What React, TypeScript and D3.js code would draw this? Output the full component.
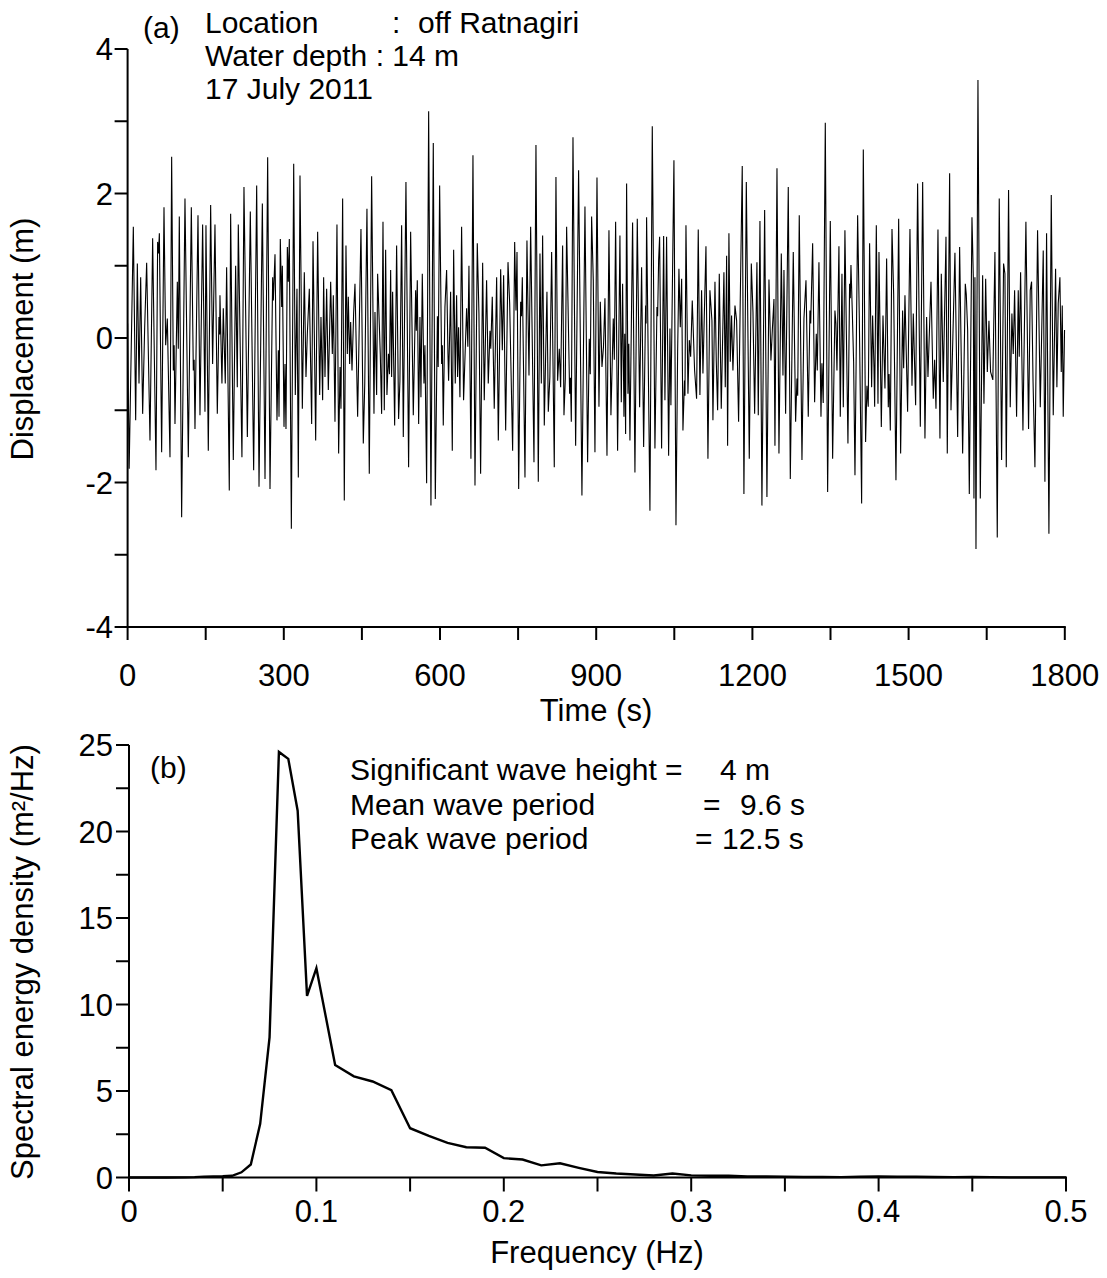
import React from "react";
import * as d3 from "d3";

// (a) surface displacement record, [time s, displacement m]
const displacement: [number, number][] = [
  [0, 0.2], [3, -1.81], [11, 1.54], [15.5, -1.14], [18.7, 1.03], [21.9, -0.63], [25.1, 0.84], [28.9, -1.05], [32.8, 0.15], [36.6, 1.04],
  [43, -1.42], [48.1, 1.38], [54.5, -1.83], [57.7, 1.33], [59.3, 1.17], [61, 1.45], [65.4, -1.58], [69.9, 1.81], [73.1, -0.1], [76.3, 0.27],
  [81.4, -1.65], [84.6, 2.51], [87.8, -0.45], [89.4, -0.1], [91, -1.19], [95.5, 0.78], [97.4, -0.15], [99.3, 1.68], [103.8, -2.48], [110.2, 1.93],
  [116.6, -1.65], [122.4, 1.81], [126.2, -0.45], [127.8, -0.3], [129.4, -1.26], [135.2, 1.7], [139, -1.07], [144.1, 1.57], [148.6, -1.02], [150.5, 1.56],
  [155, -1.56], [159.5, 1.84], [163.3, -0.36], [167.8, 1.57], [172.3, -1.05], [175.5, 0.29], [176.8, 0.05], [177.4, 0.59], [181.2, -0.63], [183.8, 0.41],
  [187.6, -0.63], [190.2, 0.98], [195.3, -2.11], [197.9, 1.72], [203, -1.69], [207.5, 1.0], [210.7, -0.68], [212.6, 1.57], [219.6, -1.65], [223.5, 2.09],
  [230, -1.37], [235.7, 1.75], [242.1, -1.83], [247.9, 2.11], [252.4, -2.06], [258.8, 1.86], [263.9, -1.95], [269, 2.5], [273.5, -2.09], [278.6, 0.84],
  [279.9, 0.52], [283.1, 1.16], [286.9, -1.14], [289.5, -0.17], [290.8, -1.09], [293.3, 1.37], [295.9, 0.43], [297.2, 1.0], [300.4, -1.23], [302.3, -0.36],
  [304.2, -1.26], [306.8, 1.26], [308.7, 0.78], [310.6, 1.37], [314.5, -2.64], [319, 2.41], [322.1, -0.79], [325.3, 0.68], [327.9, -1.93], [331.1, 2.25],
  [335.6, -0.98], [339.4, 0.91], [342.6, -0.54], [345.2, 0.06], [349, 0.68], [353.5, -1.19], [356.1, 1.34], [358.6, 0.06], [361.2, -1.42], [365, 1.47],
  [368.9, -0.79], [371.4, 0.29], [374.6, -0.86], [376.5, 0.84], [379.1, -0.54], [382.3, 0.68], [385.5, -0.72], [390, 0.78], [393.2, -0.22], [395.1, 0.59],
  [398.3, -1.16], [402.1, 1.57], [405.3, -1.6], [408, -0.4], [409.8, -0.98], [413, 1.93], [416.2, -2.25], [419.4, 1.28], [422, -0.22], [423.9, 0.57],
  [426.5, -0.36], [428.4, 0.22], [431, -0.45], [434.1, 0.34], [436.7, 0.75], [441.8, -1.09], [448.2, 1.51], [452.7, -1.46], [455.5, -0.63], [459.7, 1.79],
  [464.2, -1.88], [468.7, 2.24], [473.2, -1.05], [475.1, 0.36], [478.3, -0.79], [480.2, 0.89], [485.3, -0.22], [487.9, -1.05], [490.5, 1.61], [493, -1.0],
  [495.6, 1.22], [498.1, -0.79], [501, -0.22], [503, -0.5], [505.2, 0.94], [507.1, -0.54], [509, 0.64], [512.9, -1.21], [516.7, 1.28], [520.5, -1.12],
  [523, -0.6], [526.3, 1.56], [529.5, -1.37], [534.6, 2.16], [539.7, -1.79], [543.6, 1.47], [548.7, -1.07], [553.2, 0.66], [554.5, 0.1], [556.4, 0.8],
  [559, -1.19], [561.5, 0.29], [563.4, -0.82], [566, 0.89], [569.2, -0.63], [571, -0.1], [574.3, -2.01], [578.2, 3.14], [582.6, -2.32], [587.1, 2.7],
  [591, -2.23], [595, 0.3], [596.5, -0.4], [599.3, 2.11], [603.1, -0.36], [604.5, -0.1], [606.3, -1.21], [609.5, 0.43], [612.7, 0.94], [615.3, -0.22],
  [616.5, -0.59], [620.4, 0.64], [623.6, -1.56], [626.2, 1.22], [629.3, -0.63], [631.9, 0.59], [633.8, -0.54], [635.7, 0.15], [638.3, -0.82], [641.5, 1.54],
  [645.3, -0.86], [651.1, 0.41], [653.5, -0.12], [655.6, 1.0], [659.4, -1.67], [663.3, 2.53], [667.2, -2.04], [671.6, 1.31], [674.8, 0.34], [678, -1.88],
  [681.9, 1.04], [685, -0.86], [689.5, 0.8], [692.7, -0.63], [696, 0.1], [697.5, -0.15], [700.4, 0.57], [704.2, -0.98], [708.8, 0.84], [712, -1.42],
  [716.5, 0.95], [719.7, -0.17], [722.2, 0.87], [726.1, -1.28], [730.6, 1.05], [733.8, 0.48], [739.5, -1.56], [743.4, 1.33], [745.9, 0.38], [747.9, 1.19],
  [751.1, -2.09], [754.9, 0.5], [756.5, 0.3], [758.1, 0.84], [763.2, -1.93], [767, 1.35], [770.9, -0.52], [774.1, 1.54], [780.5, -1.72], [784.3, 2.67],
  [788.8, -1.99], [792, 1.17], [794.6, -0.63], [797.1, 1.42], [800.3, -1.21], [802.9, -0.24], [805.4, 0.64], [808, -1.02], [811, -0.54], [814.4, 1.19],
  [819.5, -1.79], [822.7, 2.23], [825.9, -0.59], [829.1, -0.15], [831.7, -0.68], [835.5, 1.28], [838.1, -1.07], [840.7, -0.56], [843.2, 1.54], [849, -0.77],
  [850.5, -0.55], [852.2, -1.16], [855.4, 2.78], [860.5, -1.49], [866.2, 2.32], [872.6, -2.18], [878.4, 1.82], [883.5, -1.72], [886.7, -0.01], [888.6, -0.5],
  [891.2, 1.68], [894.4, 0.8], [897.6, -1.58], [901.5, 2.22], [905.3, -0.95], [907.9, 0.5], [911.1, -0.4], [914, -0.12], [916.8, 0.55], [920.7, -1.63],
  [924.5, 1.49], [928.3, -1.07], [932.8, 0.27], [934.8, -0.3], [937.3, 1.61], [941.1, -1.56], [945.6, 1.42], [948.2, -0.89], [950.7, 0.75], [953.3, -1.09],
  [954.8, 0.06], [956.5, -1.33], [958.4, 2.14], [961, -0.77], [962.6, -0.08], [964.8, -1.42], [969.9, 1.6], [974.4, -1.86], [978.9, 1.65], [983.4, -0.96],
  [987.2, 0.98], [991.1, -1.51], [994.9, 0.45], [995.8, 0.2], [996.8, 1.67], [1003.2, -2.39], [1007.7, 2.93], [1012.8, -1.53], [1016.7, 0.43], [1018, 0.3],
  [1019.9, 1.08], [1021.8, 1.4], [1025.6, -1.53], [1029.5, 1.41], [1032, -0.86], [1035.2, 1.4], [1039.1, -1.63], [1041.6, 0.13], [1043.5, -0.93], [1049.3, 2.46],
  [1053.2, -2.59], [1056.4, -0.19], [1058.9, 0.96], [1061.5, 0.15], [1064.1, 0.82], [1066.6, -1.28], [1069.5, -0.59], [1070.5, -0.8], [1072.4, 1.56], [1076.2, -0.77],
  [1078.8, -0.03], [1081.4, -0.26], [1084.5, 0.52], [1089, -0.45], [1092.8, -0.84], [1096, 1.5], [1099.2, -0.79], [1102.4, 0.66], [1105, -0.49], [1110.8, 1.27],
  [1114.6, -1.67], [1118.4, 0.66], [1122.3, 0.24], [1124.2, -1.14], [1128.1, 0.78], [1130.6, -0.31], [1133.2, -1.0], [1136.4, 0.89], [1140.2, -0.98], [1145.3, 0.91],
  [1147.9, -0.68], [1150.5, 1.14], [1152.4, -1.49], [1154.9, 1.45], [1157.5, -0.33], [1160, 0.31], [1162.6, -0.45], [1166.5, 0.45], [1169.7, 0.24], [1173.5, -1.16],
  [1176.7, 0.54], [1180.5, 2.38], [1183.7, -2.16], [1188.3, 2.16], [1194, -1.67], [1197.9, 1.03], [1201.1, 0.36], [1204.3, -1.05], [1208.7, 1.05], [1211.3, -1.07],
  [1214.5, 1.62], [1218.3, -2.32], [1223.5, 1.77], [1227.9, -2.2], [1231.8, 0.81], [1235.6, -0.31], [1238.2, 0.1], [1241.4, 0.54], [1243.3, -1.49], [1247.2, 2.35],
  [1251, -1.6], [1255.5, 1.17], [1258.7, -0.52], [1260.6, 0.94], [1263.8, -1.05], [1268.9, 2.09], [1272.8, -1.95], [1278.5, 1.19], [1283, -1.16], [1285.6, -0.56],
  [1287, -0.8], [1290, 1.7], [1295.2, -1.69], [1299, 0.27], [1302.9, 0.8], [1307.3, -1.09], [1310.5, 0.38], [1312, 0.2], [1315.7, 1.31], [1319.5, -0.89],
  [1322.7, 0.06], [1324.6, -0.45], [1327.8, 1.05], [1331.7, -1.09], [1333.5, -0.35], [1336, -0.9], [1340, 2.98], [1344.5, -2.13], [1349.6, 1.62], [1354.1, -1.67],
  [1358.5, 0.38], [1360.4, 0.2], [1362.4, -0.45], [1366.2, 1.27], [1368.8, -1.09], [1372, 0.89], [1374.6, -0.96], [1377.7, 1.49], [1383.5, -1.46], [1386.7, 0.75],
  [1388, 0.55], [1389.3, 1.01], [1391.8, 0.38], [1394.4, -0.33], [1397, -1.9], [1402.1, 1.7], [1405.3, 0.29], [1409.8, -2.29], [1413, 2.61], [1417.4, -1.44],
  [1420, -0.66], [1422.5, -0.95], [1425.1, 1.31], [1429, -0.68], [1430.9, 0.31], [1433.5, -0.4], [1434.8, -0.95], [1438, 1.56], [1441.2, -0.91], [1443.1, 1.19],
  [1447.6, -1.23], [1450.8, 0.31], [1454.6, -0.7], [1457.8, 1.1], [1461, -0.96], [1462.5, -0.5], [1464.9, -1.28], [1468.1, 1.51], [1471.3, 0.61], [1475.7, -1.97],
  [1480.9, 1.65], [1484.7, -1.6], [1488.5, 0.38], [1490.5, -0.42], [1493, 0.59], [1498.1, -1.02], [1502.6, 1.51], [1506.5, -0.66], [1509, 0.34], [1513.5, -0.93],
  [1517.3, 2.14], [1522.5, -1.23], [1527, 2.16], [1531.4, -1.39], [1534.6, 0.29], [1537.2, -0.54], [1543, 0.78], [1547.4, -0.84], [1550, -0.3], [1552.6, -0.98],
  [1556.4, 1.5], [1560.2, -1.39], [1562.8, 0.89], [1566.6, -0.61], [1571.8, 1.4], [1574.3, -1.6], [1578.8, 2.28], [1581.4, -1.0], [1585, 0.0], [1589, 1.18],
  [1594.2, -1.37], [1598, 1.26], [1603.8, -1.6], [1608.9, 0.75], [1610.8, 0.6], [1613.4, 0.11], [1616.6, -2.16], [1621.7, 1.67], [1624.3, 0.84], [1625.5, -2.22],
  [1627.4, 0.84], [1629.4, -2.92], [1633.2, 3.57], [1637.7, -2.22], [1642.2, 0.87], [1644.7, -0.91], [1648, 0.82], [1651.2, -0.47], [1654.3, 0.24], [1657.5, -0.47],
  [1661.8, -0.58], [1665.8, 1.19], [1670.3, -2.76], [1674.1, 1.93], [1678.6, -1.69], [1682.4, 1.03], [1685, 0.89], [1687.6, -1.79], [1692, 2.05], [1695.2, -0.96],
  [1698.4, 0.34], [1701, -0.22], [1703.6, 0.66], [1707.4, -1.09], [1710.6, 0.66], [1712.5, -0.26], [1715.1, 0.91], [1719.6, -1.28], [1725.3, 1.61], [1730.4, -1.26],
  [1733.6, 0.66], [1736.2, 0.78], [1739, -0.6], [1742.6, -1.79], [1747.7, 1.49], [1752.9, -0.96], [1758.6, 1.21], [1761.8, -1.99], [1765, 1.45], [1769.5, -2.71],
  [1774, 1.98], [1777.8, -1.07], [1782.3, 0.96], [1784.8, -0.68], [1787.4, 0.48], [1790.6, 0.84], [1793.2, -0.47], [1795.1, 0.45], [1797, -1.09], [1799.5, 0.11],
];

// (b) spectrum
const spectrumFreq = [
  0, 0.01, 0.02, 0.03, 0.035, 0.04, 0.045, 0.05, 0.055, 0.06, 0.065, 0.07, 0.075, 0.08, 0.085, 0.09, 0.095, 0.1,
  0.11, 0.12, 0.13, 0.14, 0.15, 0.16, 0.17, 0.18, 0.19, 0.2, 0.21, 0.22, 0.23, 0.24, 0.25, 0.26, 0.27, 0.28, 0.29, 0.3,
  0.31, 0.32, 0.33, 0.34, 0.35, 0.36, 0.37, 0.38, 0.39, 0.4, 0.41, 0.42, 0.43, 0.44, 0.45, 0.46, 0.47, 0.48, 0.49, 0.5,
];
const spectrumDensity = [
  0, 0, 0, 0.01, 0.02, 0.05, 0.06, 0.07, 0.1, 0.3, 0.75, 3.1, 8.1, 24.6, 24.2, 21.2, 10.5, 12.1,
  6.5, 5.85, 5.55, 5.05, 2.85, 2.4, 2.0, 1.75, 1.72, 1.12, 1.04, 0.7, 0.82, 0.56, 0.32, 0.23, 0.17, 0.12, 0.23, 0.12,
  0.1, 0.1, 0.06, 0.06, 0.04, 0.03, 0.03, 0.02, 0.04, 0.06, 0.05, 0.04, 0.03, 0.02, 0.03, 0.02, 0.01, 0.01, 0.01, 0.01,
];

const timeMinor = [0, 150, 300, 450, 600, 750, 900, 1050, 1200, 1350, 1500, 1650, 1800];
const timeLabels = [0, 300, 600, 900, 1200, 1500, 1800];
const dispMinor = [-4, -3, -2, -1, 0, 1, 2, 3, 4];
const dispLabels = [-4, -2, 0, 2, 4];
const freqMinor = [0, 0.05, 0.1, 0.15, 0.2, 0.25, 0.3, 0.35, 0.4, 0.45, 0.5];
const freqLabels = [0, 0.1, 0.2, 0.3, 0.4, 0.5];
const densMinor = [0, 2.5, 5, 7.5, 10, 12.5, 15, 17.5, 20, 22.5, 25];
const densLabels = [0, 5, 10, 15, 20, 25];

const W = 1107;
const H = 1278;
const FONT = "'Liberation Sans', Arial, Helvetica, sans-serif";
const TICK = 13;

function App() {
  const xa = d3.scaleLinear().domain([0, 1800]).range([127.6, 1064.8]);
  const ya = d3.scaleLinear().domain([-4, 4]).range([627, 49]);
  const xb = d3.scaleLinear().domain([0, 0.5]).range([129, 1066]);
  const yb = d3.scaleLinear().domain([0, 25]).range([1177.5, 745]);

  const lineA = d3
    .line<[number, number]>()
    .x((d) => xa(d[0]))
    .y((d) => ya(d[1]));

  const lineB = d3
    .line<number>()
    .x((d, i) => xb(spectrumFreq[i]))
    .y((d) => yb(d));

  const fmtFreq = (v: number) => (v === 0 ? "0" : String(v));

  return (
    <svg
      width={W}
      height={H}
      viewBox={`0 0 ${W} ${H}`}
      style={{ position: "absolute", left: 0, top: 0, background: "#fff" }}
      fontFamily={FONT}
    >
      {/* panel (a) */}
      <g>
        <path d={lineA(displacement) || ""} fill="none" stroke="#000" strokeWidth={1.1} strokeLinejoin="miter" />
        <line x1={xa(0)} x2={xa(0)} y1={ya(-4)} y2={ya(4)} stroke="#000" strokeWidth={2} />
        <line x1={xa(0) - 1} x2={xa(1800) + 1} y1={ya(-4)} y2={ya(-4)} stroke="#000" strokeWidth={2} />
        {dispMinor.map((v) => (
          <line key={"ya" + v} x1={xa(0) - TICK} x2={xa(0)} y1={ya(v)} y2={ya(v)} stroke="#000" strokeWidth={2} />
        ))}
        {timeMinor.map((v) => (
          <line key={"xa" + v} x1={xa(v)} x2={xa(v)} y1={ya(-4)} y2={ya(-4) + TICK} stroke="#000" strokeWidth={2} />
        ))}
        {dispLabels.map((v) => (
          <text key={"yl" + v} x={113} y={ya(v)} dy="0.36em" textAnchor="end" fontSize={31}>
            {String(v)}
          </text>
        ))}
        {timeLabels.map((v) => (
          <text key={"xl" + v} x={xa(v)} y={686} textAnchor="middle" fontSize={31}>
            {String(v)}
          </text>
        ))}
        <text x={596} y={721} textAnchor="middle" fontSize={31}>
          Time (s)
        </text>
        <text transform="translate(33,339) rotate(-90)" textAnchor="middle" fontSize={31}>
          Displacement (m)
        </text>
        <text x={143} y={38} fontSize={30}>(a)</text>
        <text x={205} y={33} fontSize={30}>Location</text>
        <text x={392} y={33} fontSize={30}>:</text>
        <text x={418} y={33} fontSize={30}>off Ratnagiri</text>
        <text x={205} y={66} fontSize={30}>Water depth : 14 m</text>
        <text x={205} y={99} fontSize={30}>17 July 2011</text>
      </g>

      {/* panel (b) */}
      <g>
        <path d={lineB(spectrumDensity) || ""} fill="none" stroke="#000" strokeWidth={2.4} strokeLinejoin="miter" />
        <line x1={xb(0)} x2={xb(0)} y1={yb(0)} y2={yb(25)} stroke="#000" strokeWidth={2} />
        <line x1={xb(0) - 1} x2={xb(0.5) + 1} y1={yb(0)} y2={yb(0)} stroke="#000" strokeWidth={2} />
        {densMinor.map((v) => (
          <line key={"yb" + v} x1={xb(0) - TICK} x2={xb(0)} y1={yb(v)} y2={yb(v)} stroke="#000" strokeWidth={2} />
        ))}
        {freqMinor.map((v) => (
          <line key={"xb" + v} x1={xb(v)} x2={xb(v)} y1={yb(0)} y2={yb(0) + TICK + 1} stroke="#000" strokeWidth={2} />
        ))}
        {densLabels.map((v) => (
          <text key={"ybl" + v} x={113} y={yb(v)} dy="0.36em" textAnchor="end" fontSize={31}>
            {String(v)}
          </text>
        ))}
        {freqLabels.map((v) => (
          <text key={"xbl" + v} x={xb(v)} y={1222} textAnchor="middle" fontSize={31}>
            {fmtFreq(v)}
          </text>
        ))}
        <text x={597} y={1263} textAnchor="middle" fontSize={31}>
          Frequency (Hz)
        </text>
        <text transform="translate(33,962) rotate(-90)" textAnchor="middle" fontSize={31}>
          Spectral energy density (m²/Hz)
        </text>
        <text x={150} y={778} fontSize={30}>(b)</text>
        <text x={350} y={780} fontSize={30}>Significant wave height</text>
        <text x={665} y={780} fontSize={30}>=</text>
        <text x={720} y={780} fontSize={30}>4 m</text>
        <text x={350} y={815} fontSize={30}>Mean wave period</text>
        <text x={703} y={815} fontSize={30}>=</text>
        <text x={740} y={815} fontSize={30}>9.6 s</text>
        <text x={350} y={849} fontSize={30}>Peak wave period</text>
        <text x={695} y={849} fontSize={30}>=</text>
        <text x={722} y={849} fontSize={30}>12.5 s</text>
      </g>
    </svg>
  );
}

export default App;
